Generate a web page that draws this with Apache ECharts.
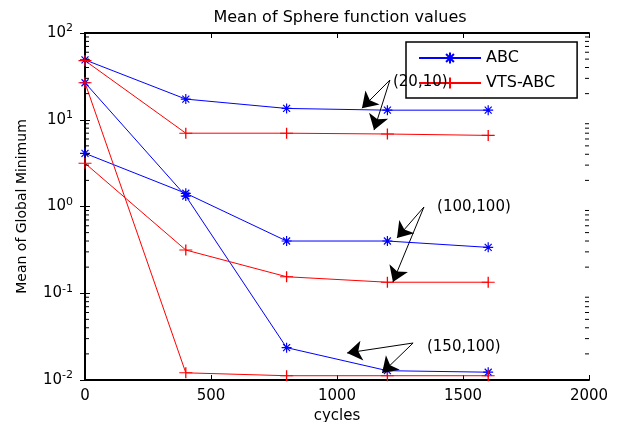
<!DOCTYPE html>
<html>
<head>
<meta charset="utf-8">
<script src="https://cdn.jsdelivr.net/npm/echarts@6/dist/echarts.min.js"></script>
<style>
html, body { margin: 0; padding: 0; background: #fff; }
#chart { width: 618px; height: 422px; }
</style>
</head>
<body>
<div id="chart"></div>
<script>
// cycles on x, mean of global minimum on y (log)
var cycles = [0, 400, 800, 1200, 1600];
var abc_20_10 = [49, 17.3, 13.5, 12.9, 12.9];
var vts_20_10 = [48, 7.0, 7.0, 6.85, 6.6];
var abc_100_100 = [4.1, 1.42, 0.40, 0.40, 0.338];
var vts_100_100 = [3.15, 0.315, 0.155, 0.134, 0.134];
var abc_150_100 = [26.7, 1.32, 0.0236, 0.0128, 0.0123];
var vts_150_100 = [26.7, 0.0121, 0.0112, 0.0112, 0.0112];

// log axis minor ticks
var minor_ticks = [0.02, 0.03, 0.04, 0.05, 0.06, 0.07, 0.08, 0.09,
	0.2, 0.3, 0.4, 0.5, 0.6, 0.7, 0.8, 0.9,
	2, 3, 4, 5, 6, 7, 8, 9,
	20, 30, 40, 50, 60, 70, 80, 90];

// annotation text and arrows (data coords)
var notes = [[1222, 27.2, '(20,10)'], [1397, 0.987, '(100,100)'], [1357, 0.0241, '(150,100)']];
var arrows = [
	[[1210, 28.7], [1099, 13.6]], [[1210, 28.7], [1147, 7.6]],
	[[1345, 0.987], [1238, 0.434]], [[1345, 0.987], [1222, 0.135]],
	[[1302, 0.0267], [1040, 0.0205]], [[1302, 0.0267], [1179, 0.01205]]
];

var FONT = 'DejaVu Sans';
var STAR = 'path://M0,-5L0,5M-5,0L5,0M-3.5,-3.5L3.5,3.5M-3.5,3.5L3.5,-3.5';
var PLUS = 'path://M-5,0L5,0M0,-5L0,5';

function lineSeries(name, values, color, symbol, size) {
	return {
		name: name,
		type: 'line',
		data: values.map((v, i) => [cycles[i], v]),
		symbol: symbol,
		symbolSize: size,
		lineStyle: { color: color, width: 1 },
		itemStyle: { color: color, borderColor: color, borderWidth: 1.2 },
		emphasis: { disabled: true },
		z: 3
	};
}

var series = [
	lineSeries('ABC', abc_20_10, '#0000ff', STAR, 10),
	lineSeries('ABC', abc_100_100, '#0000ff', STAR, 10),
	lineSeries('ABC', abc_150_100, '#0000ff', STAR, 10),
	lineSeries('VTS-ABC', vts_20_10, '#ff0000', PLUS, [13, 11]),
	lineSeries('VTS-ABC', vts_100_100, '#ff0000', PLUS, [13, 11]),
	lineSeries('VTS-ABC', vts_150_100, '#ff0000', PLUS, [13, 11]),
	{
		type: 'custom',
		silent: true,
		clip: false,
		data: minor_ticks.map(v => [0, v]),
		renderItem: function(params, api) {
			let y = api.value(1);
			let l = api.coord([0, y]);
			let r = api.coord([2000, y]);
			return {
				type: 'group',
				children: [
					{ type: 'line', shape: { x1: l[0], y1: l[1], x2: l[0] + 4, y2: l[1] }, style: { stroke: '#000', lineWidth: 1 } },
					{ type: 'line', shape: { x1: r[0], y1: r[1], x2: r[0] - 4, y2: r[1] }, style: { stroke: '#000', lineWidth: 1 } }
				]
			};
		},
		z: 10
	},
	{
		type: 'scatter',
		silent: true,
		symbolSize: 0,
		itemStyle: { opacity: 1 },
		data: notes,
		label: {
			show: true,
			position: 'right',
			distance: 0,
			formatter: p => p.data[2],
			color: '#000',
			fontFamily: FONT,
			fontSize: 15
		},
		markLine: {
			silent: true,
			animation: false,
			symbol: ['none', 'arrow'],
			symbolSize: 15,
			label: { show: false },
			lineStyle: { color: '#000', width: 1, type: 'solid' },
			data: arrows.map(a => [{ coord: a[0] }, { coord: a[1] }])
		},
		z: 5
	}
];

var chart = echarts.init(document.getElementById('chart'));
chart.setOption({
	animation: false,
	backgroundColor: '#fff',
	title: {
		text: 'Mean of Sphere function values',
		left: 335,
		textAlign: 'center',
		top: 5,
		textStyle: { fontFamily: FONT, fontSize: 16, fontWeight: 'normal', color: '#000' }
	},
	legend: {
		data: ['ABC', 'VTS-ABC'],
		orient: 'vertical',
		left: 406,
		top: 42,
		padding: [8, 22, 7, 12],
		itemWidth: 62,
		itemHeight: 14,
		itemGap: 9,
		backgroundColor: '#fff',
		borderColor: '#000',
		borderWidth: 1.5,
		borderRadius: 0,
		selectedMode: false,
		textStyle: { fontFamily: FONT, fontSize: 16, color: '#000', padding: [0, 0, 0, 0] }
	},
	grid: { left: 85, right: 29, top: 33, bottom: 42, outerBoundsMode: 'none' },
	xAxis: [
		{
			type: 'value',
			min: 0, max: 2000, interval: 500,
			name: 'cycles',
			nameLocation: 'middle',
			nameGap: 24,
			nameTextStyle: { fontFamily: FONT, fontSize: 15, color: '#000' },
			axisLine: { lineStyle: { color: '#000', width: 2 } },
			axisTick: { inside: true, length: 5, lineStyle: { color: '#000' } },
			axisLabel: { margin: 9, fontFamily: FONT, fontSize: 15, color: '#000', formatter: v => String(v) },
			splitLine: { show: false }
		},
		{
			type: 'value',
			position: 'top',
			min: 0, max: 2000, interval: 500,
			axisLine: { lineStyle: { color: '#000', width: 2 } },
			axisTick: { inside: true, length: 5, lineStyle: { color: '#000' } },
			axisLabel: { show: false },
			splitLine: { show: false }
		}
	],
	yAxis: [
		{
			type: 'log',
			logBase: 10,
			min: 0.01, max: 100,
			name: 'Mean of Global Minimum',
			nameLocation: 'middle',
			nameGap: 56,
			nameTextStyle: { fontFamily: FONT, fontSize: 14, color: '#000' },
			axisLine: { lineStyle: { color: '#000', width: 2 } },
			axisTick: { inside: true, length: 5, lineStyle: { color: '#000' } },
			axisLabel: {
				margin: 12,
				formatter: v => '{b|10}{s|' + Math.round(Math.log10(v)) + '}',
				rich: {
					b: { fontFamily: FONT, fontSize: 15, color: '#000' },
					s: { fontFamily: FONT, fontSize: 11, color: '#000', padding: [0, 0, 9, 0] }
				}
			},
			splitLine: { show: false }
		},
		{
			type: 'log',
			logBase: 10,
			position: 'right',
			min: 0.01, max: 100,
			axisLine: { lineStyle: { color: '#000', width: 2 } },
			axisTick: { inside: true, length: 5, lineStyle: { color: '#000' } },
			axisLabel: { show: false },
			splitLine: { show: false }
		}
	],
	series: series
});
</script>
</body>
</html>
